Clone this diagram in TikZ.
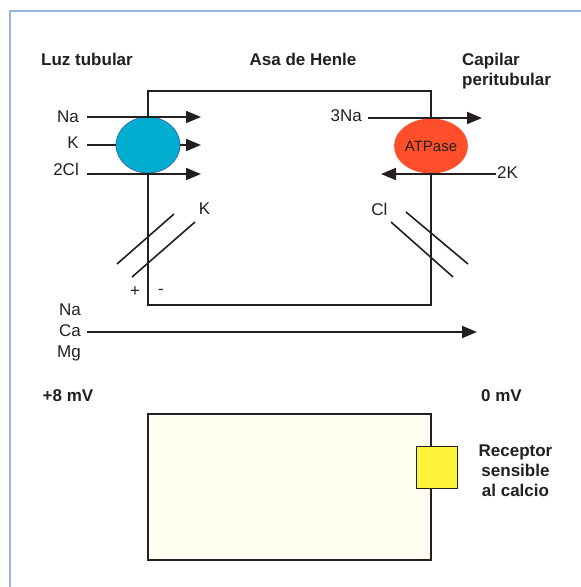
\documentclass[tikz,border=0pt]{standalone}
\usepackage{fontspec}
\setmainfont{Liberation Sans}
\usetikzlibrary{positioning, arrows.meta, calc, shapes.geometric}

\definecolor{inkdark}{HTML}{231F20}
\definecolor{frameblue}{HTML}{93B7E0}
\definecolor{cotrblue}{HTML}{00AECF}
\definecolor{cotredge}{HTML}{3A6EB0}
\definecolor{pumpred}{HTML}{FF4F2A}
\definecolor{casryellow}{HTML}{FFF33B}
\definecolor{interivory}{HTML}{FFFEF0}

\begin{document}
\begin{tikzpicture}[
  x=1pt, y=-1pt,
  font=\fontsize{17}{20}\selectfont,
  lbl/.style={text=inkdark, inner sep=0pt},
  hdr/.style={lbl, font=\fontsize{17}{20}\selectfont\bfseries},
  wall/.style={draw=inkdark, line width=1.8pt, inner sep=0pt},
  iarr/.style={-{Triangle[length=15pt,width=12pt]}, line width=1.8pt, draw=inkdark},
  chan/.style={draw=inkdark, line width=1.6pt},
  oval/.style={ellipse, minimum width=64pt, minimum height=56pt, inner sep=0pt}
]
\useasboundingbox (0,0) rectangle (581,587);
\draw[frameblue, line width=2.3pt] (10,587) -- (10,11);
\draw[frameblue, line width=1.4pt] (9,11) -- (581,11);

% headings
\node[hdr, anchor=base west] (lumen) at (41,65) {Luz tubular};
\node[hdr, anchor=base] (loop) at (303,65) {Asa de Henle};
\node[hdr, anchor=north west, align=left] (blood) at (462,52.8) {Capilar\\peritubular};

% the cell and its two carriers
\node[wall, minimum width=283pt, minimum height=214pt] (cell) at (289.5,198) {};
\node[oval, fill=cotrblue, draw=cotredge, line width=0.8pt] (cotr) at (148,145) {};
\node[oval, fill=pumpred, minimum height=55pt, font=\fontsize{15}{18}\selectfont,
      text=inkdark] (pump) at (431,146) {ATPase};

% luminal side
\coordinate (nain) at (87,117);   \coordinate (naout) at (201,117);
\coordinate (kin) at (87,145);    \coordinate (kout) at (201,145);
\coordinate (clin) at (87,174);   \coordinate (clout) at (201,174);
\node[lbl, left=8pt of nain] (na) {Na};
\node[lbl, left=8pt of kin, yshift=2pt] (k) {K};
\node[lbl, left=8pt of clin, yshift=5pt] (cl) {2Cl};
\foreach \x/\y in {nain/naout, cotr.east/kout, clin/clout}{
  \draw[iarr] (\x) -- (\y);}
\draw[line width=1.8pt, draw=inkdark] (kin) -- (cotr.west);

% basolateral side
\coordinate (pnain) at (368,118);  \coordinate (pnaout) at (482,118);
\coordinate (pkin) at (496,174);   \coordinate (pkout) at (381,174);
\node[lbl, left=6pt of pnain, yshift=2pt] (pna) {3Na};
\node[lbl, right=1pt of pkin, yshift=1pt] (pk) {2K};
\foreach \x/\y in {pnain/pnaout, pkin/pkout}{
  \draw[iarr] (\x) -- (\y);}

% channels
\draw[chan] (117,264) -- (174,214);
\draw[chan] (132,277) -- (195,222);
\node[lbl] (kchan) at (204.5,209) {K};
\draw[chan] (406,212) -- (468,264);
\draw[chan] (391,222) -- (453,277);
\node[lbl] (clchan) at (379.5,209) {Cl};
\node[lbl] (plus) at (135,292) {+};
\node[lbl] (minus) at (161,292) {-};

% paracellular route
\coordinate (parin) at (87,332);  \coordinate (parout) at (477,332);
\node[lbl, anchor=east] (pna2) at (81,310) {Na};
\node[lbl, anchor=east] (pca) at (81,331) {Ca};
\node[lbl, anchor=east] (pmg) at (81,353) {Mg};
\draw[iarr] (parin) -- (parout);

\node[hdr] (vlumen) at (68,396) {+8 mV};
\node[hdr] (vblood) at (501.5,396) {0 mV};

% lower cell with the receptor
\node[wall, fill=interivory, minimum width=283pt, minimum height=146pt] (lower) at (289.5,487) {};
\node[draw=inkdark, line width=1pt, fill=casryellow, minimum width=41pt,
      minimum height=42pt, inner sep=0pt] (casr) at (436.5,467) {};
\node[hdr, anchor=north, align=center] (casrlbl) at (515.5,444.8) {Receptor\\sensible\\al calcio};
\end{tikzpicture}
\end{document}
